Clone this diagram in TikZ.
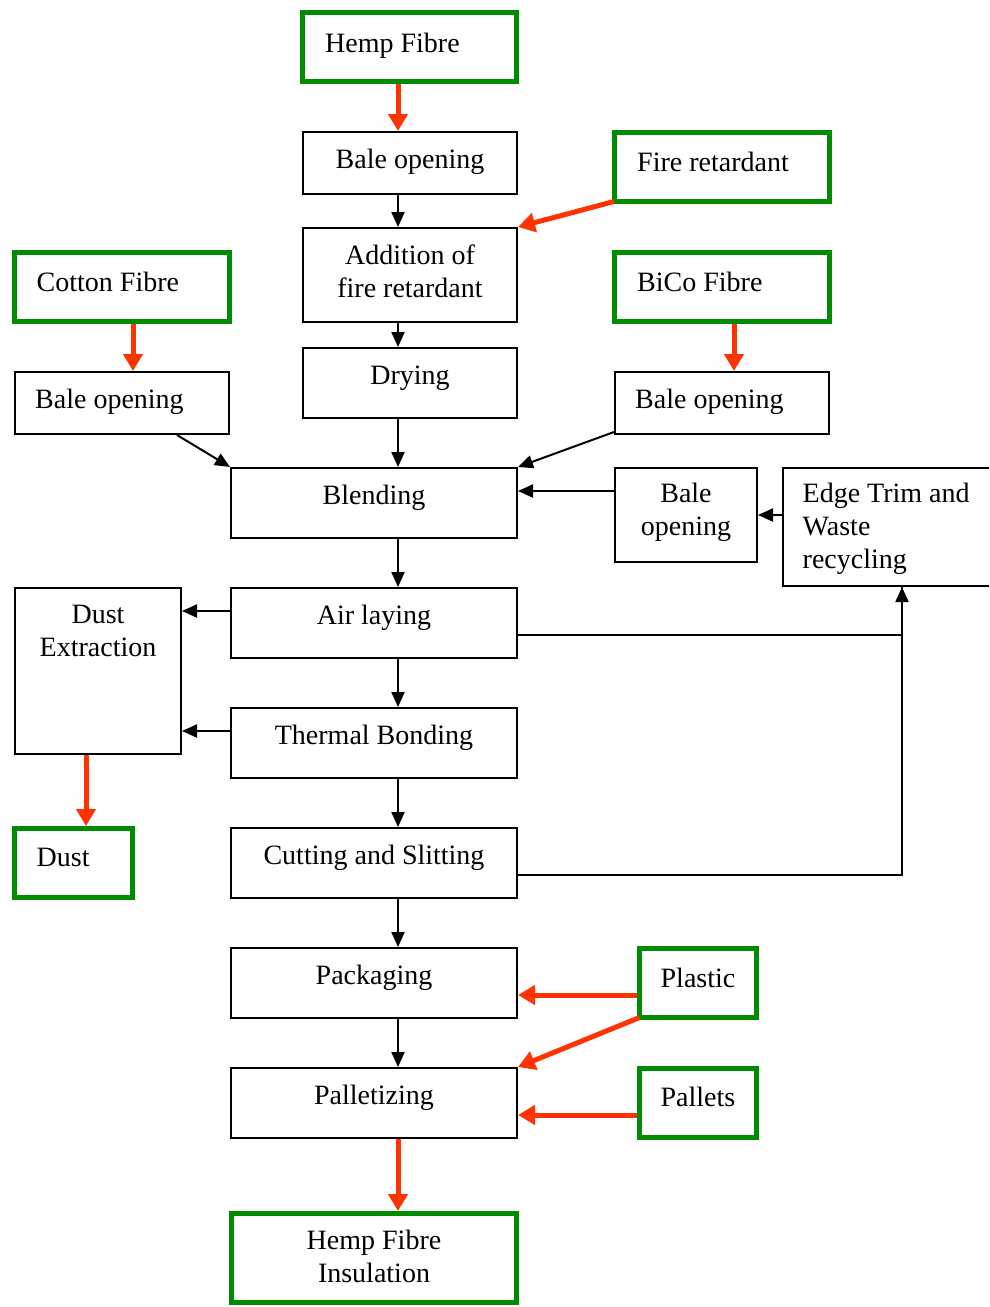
\documentclass[tikz,border=0pt]{standalone}
\usepackage{fontspec}
\setmainfont{Liberation Serif}
\usetikzlibrary{arrows.meta}
\definecolor{boxgreen}{RGB}{0,140,0}
\definecolor{flowred}{RGB}{255,51,0}
\tikzset{
  bbox/.style={draw=black, line width=2pt, rectangle, inner sep=0pt},
  gbox/.style={draw=boxgreen, line width=5pt, rectangle, inner sep=0pt},
  txt/.style={inner sep=0pt, font=\fontsize{28}{33}\selectfont},
  barrow/.style={draw=black, line width=2pt, -{Triangle[width=13pt,length=15pt]}},
  rarrow/.style={draw=flowred, line width=5pt, -{Triangle[width=19pt,length=17pt]}},
  bline/.style={draw=black, line width=2pt},
}
\begin{document}
\begin{tikzpicture}[x=1pt,y=-1pt]
\clip (0,0) rectangle (989,1307);
\fill[white] (0,0) rectangle (989,1307);

% process boxes
\node[gbox, minimum width=214, minimum height=69] (hemp) at (409.5,47) {};
\node[bbox, minimum width=214, minimum height=62] (bale1) at (410,163) {};
\node[gbox, minimum width=215, minimum height=69] (fire) at (722,167) {};
\node[bbox, minimum width=214, minimum height=94] (addition) at (410,275) {};
\node[gbox, minimum width=215, minimum height=69] (cotton) at (122,287) {};
\node[gbox, minimum width=215, minimum height=69] (bico) at (722,287) {};
\node[bbox, minimum width=214, minimum height=62] (baleL) at (122,403) {};
\node[bbox, minimum width=214, minimum height=70] (drying) at (410,383) {};
\node[bbox, minimum width=214, minimum height=62] (baleR) at (722,403) {};
\node[bbox, minimum width=286, minimum height=70] (blending) at (374,503) {};
\node[bbox, minimum width=142, minimum height=94] (baleS) at (686,515) {};
\node[bbox, minimum width=216, minimum height=118] (edge) at (891,527) {};
\node[bbox, minimum width=166, minimum height=166] (dustx) at (98,671) {};
\node[bbox, minimum width=286, minimum height=70] (air) at (374,623) {};
\node[bbox, minimum width=286, minimum height=70] (thermal) at (374,743) {};
\node[gbox, minimum width=118, minimum height=69] (dust) at (73.5,863) {};
\node[bbox, minimum width=286, minimum height=70] (cutting) at (374,863) {};
\node[bbox, minimum width=286, minimum height=70] (packaging) at (374,983) {};
\node[gbox, minimum width=117, minimum height=69] (plastic) at (698,983) {};
\node[bbox, minimum width=286, minimum height=70] (pallet) at (374,1103) {};
\node[gbox, minimum width=117, minimum height=69] (pallets) at (698,1103) {};
\node[gbox, minimum width=285, minimum height=89] (insul) at (374,1258) {};

% labels
\node[txt, anchor=base west] (t-hemp) at (325,52) {Hemp Fibre};
\node[txt, anchor=base] (t-bale1) at (410,168) {Bale opening};
\node[txt, anchor=base west] (t-fire) at (637,171) {Fire retardant};
\node[txt, anchor=base] (t-add1) at (410,264) {Addition of};
\node[txt, anchor=base] (t-add2) at (410,297) {fire retardant};
\node[txt, anchor=base west] (t-cotton) at (36.5,291) {Cotton Fibre};
\node[txt, anchor=base west] (t-bico) at (637,291) {BiCo Fibre};
\node[txt, anchor=base west] (t-baleL) at (35,408) {Bale opening};
\node[txt, anchor=base] (t-drying) at (410,384) {Drying};
\node[txt, anchor=base west] (t-baleR) at (635,408) {Bale opening};
\node[txt, anchor=base] (t-blend) at (374,504) {Blending};
\node[txt, anchor=base] (t-baleS1) at (686,502) {Bale};
\node[txt, anchor=base] (t-baleS2) at (686,535) {opening};
\node[txt, anchor=base west] (t-edge1) at (802.5,502) {Edge Trim and};
\node[txt, anchor=base west] (t-edge2) at (802.5,535) {Waste};
\node[txt, anchor=base west] (t-edge3) at (802.5,568) {recycling};
\node[txt, anchor=base] (t-dustx1) at (98,623) {Dust};
\node[txt, anchor=base] (t-dustx2) at (98,656.5) {Extraction};
\node[txt, anchor=base] (t-air) at (374,624) {Air laying};
\node[txt, anchor=base] (t-thermal) at (374,744) {Thermal Bonding};
\node[txt, anchor=base west] (t-dust) at (36.5,866) {Dust};
\node[txt, anchor=base] (t-cut) at (374,864) {Cutting and Slitting};
\node[txt, anchor=base] (t-pack) at (374,984) {Packaging};
\node[txt, anchor=base] (t-plastic) at (698,987) {Plastic};
\node[txt, anchor=base] (t-pallet) at (374,1104) {Palletizing};
\node[txt, anchor=base] (t-pallets) at (698,1106) {Pallets};
\node[txt, anchor=base] (t-ins1) at (374,1249) {Hemp Fibre};
\node[txt, anchor=base] (t-ins2) at (374,1282.5) {Insulation};

% helper points on box edges (shifts are in page units: positive = up)
\coordinate (airL) at ([yshift=12]air.west);
\coordinate (airR) at ([yshift=-12]air.east);
\coordinate (thermL) at ([yshift=12]thermal.west);
\coordinate (cutR) at ([yshift=-12]cutting.east);
\coordinate (edgeIn) at ([xshift=11]edge.south);
\coordinate (edgeL) at ([yshift=12]edge.west);
\coordinate (plasticL) at ([yshift=-12]plastic.west);
\coordinate (palletsL) at ([yshift=-12]pallets.west);

% material inputs (red)
\draw[rarrow] ([xshift=-11.5]hemp.south) -- ([xshift=-12]bale1.north);
\draw[rarrow] ([xshift=2,yshift=2.5]fire.south west) -- (addition.north east);
\draw[rarrow] ([xshift=11]cotton.south) -- ([xshift=11]baleL.north);
\draw[rarrow] ([xshift=12]bico.south) -- ([xshift=12]baleR.north);
\draw[rarrow] ([xshift=-12]dustx.south) -- ([xshift=12.5]dust.north);
\draw[rarrow] (plasticL) -- (plasticL -| packaging.east);
\draw[rarrow] ([xshift=2.5,yshift=2.5]plastic.south west) -- (pallet.north east);
\draw[rarrow] (palletsL) -- (palletsL -| pallet.east);
\draw[rarrow] ([xshift=24]pallet.south) -- ([xshift=24]insul.north);

% process flow (black)
\draw[barrow] ([xshift=-12]bale1.south) -- ([xshift=-12]addition.north);
\draw[barrow] ([xshift=-12]addition.south) -- ([xshift=-12]drying.north);
\draw[barrow] ([xshift=55]baleL.south) -- (blending.north west);
\draw[barrow] ([xshift=-12]drying.south) -- ([xshift=24]blending.north);
\draw[barrow] ([yshift=3]baleR.south west) -- (blending.north east);
\draw[barrow] ([yshift=-24]baleS.north west) -- ([yshift=-24]blending.north east);
\draw[barrow] (edgeL) -- (edgeL -| baleS.east);
\draw[barrow] ([xshift=24]blending.south) -- ([xshift=24]air.north);
\draw[barrow] (airL) -- (airL -| dustx.east);
\draw[barrow] ([xshift=24]air.south) -- ([xshift=24]thermal.north);
\draw[barrow] (thermL) -- (thermL -| dustx.east);
\draw[barrow] ([xshift=24]thermal.south) -- ([xshift=24]cutting.north);
\draw[barrow] ([xshift=24]cutting.south) -- ([xshift=24]packaging.north);
\draw[barrow] ([xshift=24]packaging.south) -- ([xshift=24]pallet.north);
\draw[bline] (cutR) -| (edgeIn);
\draw[barrow] (airR) -| (edgeIn);
\end{tikzpicture}
\end{document}
